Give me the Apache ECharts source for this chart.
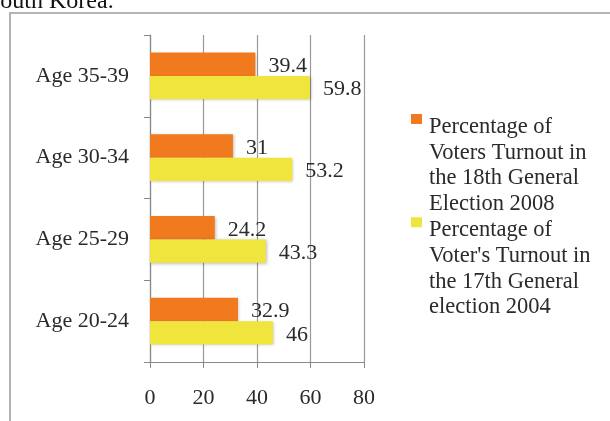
<!DOCTYPE html>
<html>
<head>
<meta charset="utf-8">
<script src="https://cdn.jsdelivr.net/npm/echarts@6/dist/echarts.min.js"></script>
<style>html,body{margin:0;padding:0;background:#fff;}#c{width:610px;height:421px;}</style>
</head>
<body>
<div id="c"></div>
<script>
const categories = ['Age 20-24', 'Age 25-29', 'Age 30-34', 'Age 35-39'];
const turnout2008 = [32.9, 24.2, 31, 39.4];
const turnout2004 = [46, 43.3, 53.2, 59.8];
const seriesNames = [
  'Percentage of\nVoters Turnout in\nthe 18th General\nElection 2008',
  "Percentage of\nVoter's Turnout in\nthe 17th General\nelection 2004"
];
const xTicks = { min: 0, max: 80, interval: 20 };

const FONT = '"Liberation Serif", "DejaVu Serif", serif';
const chart = echarts.init(document.getElementById('c'), null, { renderer: 'canvas' });
const labelStyle = {
  show: true, position: 'right', distance: 13, offset: [0, 2],
  fontFamily: FONT, fontSize: 22, color: '#2a2a2a'
};
chart.setOption({
  animation: false,
  textStyle: { fontFamily: FONT },
  graphic: [
    { type: 'rect', shape: { x: 10, y: 13, width: 700, height: 500 },
      style: { fill: 'none', stroke: '#b4b4b4', lineWidth: 2 }, z: -1 },
    { type: 'text', left: -13, top: -10,
      style: { text: 'South Korea.', fontFamily: FONT, fontSize: 24, fill: '#111' } }
  ],
  grid: { left: 150, right: 246, top: 35, bottom: 59 },
  xAxis: {
    type: 'value', min: xTicks.min, max: xTicks.max, interval: xTicks.interval,
    axisLine: { show: true, lineStyle: { color: '#888', width: 1.2 } },
    axisTick: { show: true, length: 6, lineStyle: { color: '#888' } },
    splitLine: { show: true, lineStyle: { color: '#999', width: 1.2 } },
    axisLabel: { margin: 25, fontFamily: FONT, fontSize: 22, color: '#2a2a2a' }
  },
  yAxis: {
    type: 'category', data: categories,
    axisLine: { show: true, lineStyle: { color: '#888', width: 1.2 } },
    axisTick: { show: true, length: 6, lineStyle: { color: '#888' } },
    axisLabel: { margin: 21, fontFamily: FONT, fontSize: 22, color: '#2a2a2a' }
  },
  legend: {
    orient: 'vertical', left: 411, top: 114, itemGap: 0, padding: 0,
    itemWidth: 11, itemHeight: 103, itemStyle: { borderWidth: 0 },
    icon: 'path://M0,0h11v10h-11z M0,103h0.01v0.01h-0.01z',
    textStyle: { fontFamily: FONT, fontSize: 22.5, lineHeight: 25.8, color: '#2a2a2a', padding: [0, 0, 0, 2] },
    data: seriesNames
  },
  series: [
    { name: seriesNames[0], type: 'bar', data: turnout2008, barGap: '0%', barCategoryGap: '43%',
      itemStyle: { color: '#F27A1E', shadowColor: 'rgba(0,0,0,0.25)', shadowBlur: 3, shadowOffsetX: 1, shadowOffsetY: 1 },
      label: labelStyle },
    { name: seriesNames[1], type: 'bar', data: turnout2004, barGap: '0%', barCategoryGap: '43%',
      itemStyle: { color: '#EFE53C', shadowColor: 'rgba(0,0,0,0.25)', shadowBlur: 3, shadowOffsetX: 1, shadowOffsetY: 1 },
      label: labelStyle }
  ]
});
</script>
</body>
</html>
